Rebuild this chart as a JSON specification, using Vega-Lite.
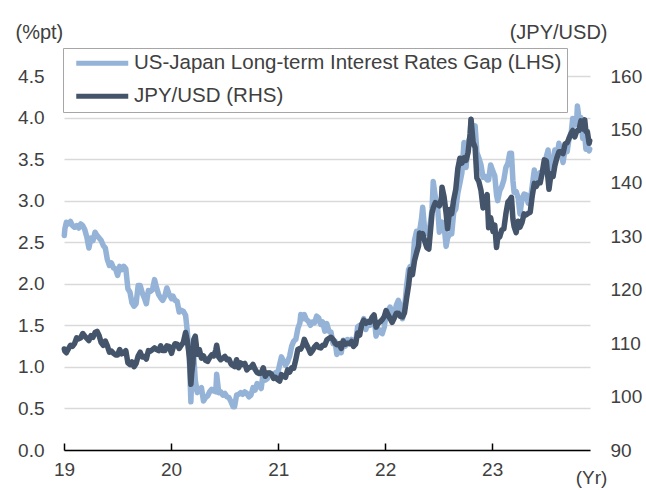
{
"$schema": "https://vega.github.io/schema/vega-lite/v6.json",
"width": 526, "height": 374,
"autosize": {"type": "none"},
"padding": {"left": 64, "top": 76, "right": 56, "bottom": 40},
"background": "white",
"config": {"view": {"stroke": null}, "font": "Liberation Sans",
 "axis": {"labelFont": "Liberation Sans", "titleFont": "Liberation Sans", "labelColor": "#404040", "titleColor": "#404040", "titleFontWeight": "normal", "labelFontSize": 19, "titleFontSize": 20},
 "legend": {"strokeWidth": 1}},
"data": {"values": [
{"d":"2019-01-02","g":2.58,"f":108.9},{"d":"2019-01-04","g":2.66,"f":108.5},{"d":"2019-01-09","g":2.74,"f":108.2},{"d":"2019-01-16","g":2.72,"f":108.9},{"d":"2019-01-23","g":2.75,"f":109.6},{"d":"2019-01-30","g":2.70,"f":109.4},
{"d":"2019-02-06","g":2.68,"f":109.9},{"d":"2019-02-13","g":2.70,"f":111.0},{"d":"2019-02-20","g":2.67,"f":110.8},{"d":"2019-02-27","g":2.72,"f":111.0},
{"d":"2019-03-06","g":2.70,"f":111.8},{"d":"2019-03-13","g":2.65,"f":111.3},{"d":"2019-03-20","g":2.56,"f":110.9},{"d":"2019-03-27","g":2.43,"f":110.5},
{"d":"2019-04-03","g":2.55,"f":111.4},{"d":"2019-04-10","g":2.52,"f":111.1},{"d":"2019-04-17","g":2.62,"f":112.0},{"d":"2019-04-24","g":2.58,"f":112.2},
{"d":"2019-05-01","g":2.55,"f":111.4},{"d":"2019-05-08","g":2.52,"f":110.1},{"d":"2019-05-15","g":2.46,"f":109.6},{"d":"2019-05-22","g":2.43,"f":110.4},{"d":"2019-05-29","g":2.29,"f":109.5},
{"d":"2019-06-05","g":2.22,"f":108.3},{"d":"2019-06-12","g":2.25,"f":108.5},{"d":"2019-06-19","g":2.19,"f":108.1},{"d":"2019-06-26","g":2.18,"f":107.8},
{"d":"2019-07-03","g":2.10,"f":107.8},{"d":"2019-07-10","g":2.21,"f":108.8},{"d":"2019-07-17","g":2.17,"f":108.0},{"d":"2019-07-24","g":2.21,"f":108.2},{"d":"2019-07-31","g":2.18,"f":108.6},
{"d":"2019-08-07","g":1.94,"f":106.3},{"d":"2019-08-14","g":1.90,"f":106.0},{"d":"2019-08-21","g":1.77,"f":106.5},{"d":"2019-08-28","g":1.73,"f":105.6},
{"d":"2019-09-04","g":1.76,"f":106.2},{"d":"2019-09-11","g":1.98,"f":107.6},{"d":"2019-09-18","g":1.98,"f":108.3},{"d":"2019-09-25","g":1.89,"f":107.4},
{"d":"2019-10-02","g":1.83,"f":107.5},{"d":"2019-10-09","g":1.76,"f":107.0},{"d":"2019-10-16","g":1.92,"f":108.6},{"d":"2019-10-23","g":1.91,"f":108.5},{"d":"2019-10-30","g":1.93,"f":108.8},
{"d":"2019-11-06","g":2.05,"f":109.1},{"d":"2019-11-13","g":1.95,"f":108.8},{"d":"2019-11-20","g":1.87,"f":108.6},{"d":"2019-11-27","g":1.83,"f":109.5},
{"d":"2019-12-04","g":1.80,"f":108.6},{"d":"2019-12-11","g":1.85,"f":108.6},{"d":"2019-12-18","g":1.95,"f":109.5},{"d":"2019-12-25","g":1.88,"f":109.4},
{"d":"2020-01-03","g":1.82,"f":108.1},{"d":"2020-01-08","g":1.85,"f":109.1},{"d":"2020-01-15","g":1.80,"f":109.9},{"d":"2020-01-22","g":1.79,"f":109.8},{"d":"2020-01-29","g":1.66,"f":109.0},
{"d":"2020-02-05","g":1.68,"f":109.6},{"d":"2020-02-12","g":1.67,"f":110.1},{"d":"2020-02-20","g":1.62,"f":112.0},{"d":"2020-02-26","g":1.42,"f":110.4},
{"d":"2020-03-04","g":1.08,"f":107.4},{"d":"2020-03-09","g":0.58,"f":102.3},{"d":"2020-03-12","g":0.88,"f":104.5},{"d":"2020-03-16","g":0.73,"f":106.2},{"d":"2020-03-19","g":1.12,"f":110.7},{"d":"2020-03-24","g":0.84,"f":111.3},{"d":"2020-03-31","g":0.69,"f":107.9},
{"d":"2020-04-07","g":0.73,"f":108.8},{"d":"2020-04-14","g":0.75,"f":107.2},{"d":"2020-04-21","g":0.59,"f":107.6},{"d":"2020-04-28","g":0.63,"f":106.8},
{"d":"2020-05-05","g":0.65,"f":106.6},{"d":"2020-05-12","g":0.70,"f":107.3},{"d":"2020-05-19","g":0.73,"f":107.8},{"d":"2020-05-26","g":0.71,"f":107.6},
{"d":"2020-06-02","g":0.70,"f":108.7},{"d":"2020-06-05","g":0.91,"f":109.6},{"d":"2020-06-12","g":0.69,"f":107.4},{"d":"2020-06-19","g":0.70,"f":106.9},{"d":"2020-06-26","g":0.66,"f":107.2},
{"d":"2020-07-03","g":0.68,"f":107.5},{"d":"2020-07-10","g":0.64,"f":106.9},{"d":"2020-07-17","g":0.63,"f":107.0},{"d":"2020-07-24","g":0.58,"f":106.1},{"d":"2020-07-31","g":0.52,"f":105.8},
{"d":"2020-08-05","g":0.52,"f":105.6},{"d":"2020-08-12","g":0.66,"f":106.9},{"d":"2020-08-19","g":0.67,"f":105.4},{"d":"2020-08-26","g":0.69,"f":106.3},
{"d":"2020-09-02","g":0.67,"f":106.0},{"d":"2020-09-09","g":0.70,"f":106.2},{"d":"2020-09-16","g":0.68,"f":105.0},{"d":"2020-09-23","g":0.64,"f":105.4},{"d":"2020-09-30","g":0.66,"f":105.5},
{"d":"2020-10-07","g":0.75,"f":106.0},{"d":"2020-10-14","g":0.72,"f":105.1},{"d":"2020-10-21","g":0.80,"f":104.5},{"d":"2020-10-28","g":0.77,"f":104.3},
{"d":"2020-11-04","g":0.74,"f":104.4},{"d":"2020-11-11","g":0.94,"f":105.4},{"d":"2020-11-18","g":0.84,"f":103.8},{"d":"2020-11-25","g":0.86,"f":104.4},
{"d":"2020-12-02","g":0.93,"f":104.4},{"d":"2020-12-09","g":0.92,"f":104.2},{"d":"2020-12-16","g":0.91,"f":103.4},{"d":"2020-12-23","g":0.93,"f":103.6},{"d":"2020-12-30","g":0.91,"f":103.2},
{"d":"2021-01-06","g":1.03,"f":102.9},{"d":"2021-01-12","g":1.12,"f":104.1},{"d":"2021-01-19","g":1.07,"f":103.8},{"d":"2021-01-26","g":1.02,"f":103.6},
{"d":"2021-02-02","g":1.06,"f":105.0},{"d":"2021-02-09","g":1.13,"f":104.6},{"d":"2021-02-16","g":1.25,"f":105.4},{"d":"2021-02-23","g":1.31,"f":105.3},
{"d":"2021-03-02","g":1.33,"f":106.9},{"d":"2021-03-09","g":1.46,"f":108.8},{"d":"2021-03-16","g":1.53,"f":109.0},{"d":"2021-03-19","g":1.63,"f":108.9},{"d":"2021-03-26","g":1.58,"f":109.6},{"d":"2021-03-31","g":1.63,"f":110.7},
{"d":"2021-04-07","g":1.57,"f":109.8},{"d":"2021-04-14","g":1.55,"f":109.0},{"d":"2021-04-21","g":1.50,"f":108.1},{"d":"2021-04-28","g":1.54,"f":108.6},
{"d":"2021-05-05","g":1.53,"f":109.3},{"d":"2021-05-12","g":1.61,"f":109.7},{"d":"2021-05-19","g":1.59,"f":109.2},{"d":"2021-05-26","g":1.51,"f":109.1},
{"d":"2021-06-02","g":1.54,"f":109.6},{"d":"2021-06-09","g":1.43,"f":109.6},{"d":"2021-06-16","g":1.52,"f":110.6},{"d":"2021-06-23","g":1.43,"f":110.9},{"d":"2021-06-30","g":1.42,"f":111.1},
{"d":"2021-07-07","g":1.28,"f":110.7},{"d":"2021-07-14","g":1.31,"f":110.0},{"d":"2021-07-20","g":1.15,"f":109.7},{"d":"2021-07-28","g":1.24,"f":109.9},
{"d":"2021-08-04","g":1.17,"f":109.0},{"d":"2021-08-11","g":1.32,"f":110.4},{"d":"2021-08-18","g":1.25,"f":109.8},{"d":"2021-08-25","g":1.33,"f":110.0},
{"d":"2021-09-01","g":1.28,"f":109.9},{"d":"2021-09-08","g":1.33,"f":110.3},{"d":"2021-09-15","g":1.27,"f":109.4},{"d":"2021-09-22","g":1.29,"f":109.8},{"d":"2021-09-29","g":1.48,"f":111.9},
{"d":"2021-10-06","g":1.50,"f":111.5},{"d":"2021-10-13","g":1.50,"f":113.5},{"d":"2021-10-20","g":1.58,"f":114.3},{"d":"2021-10-27","g":1.45,"f":113.7},
{"d":"2021-11-03","g":1.55,"f":114.0},{"d":"2021-11-10","g":1.50,"f":113.9},{"d":"2021-11-17","g":1.53,"f":114.8},{"d":"2021-11-24","g":1.60,"f":115.3},
{"d":"2021-12-01","g":1.37,"f":113.0},{"d":"2021-12-08","g":1.46,"f":113.7},{"d":"2021-12-15","g":1.42,"f":114.0},{"d":"2021-12-22","g":1.40,"f":114.4},{"d":"2021-12-29","g":1.48,"f":115.0},
{"d":"2022-01-04","g":1.63,"f":116.1},{"d":"2022-01-11","g":1.68,"f":115.3},{"d":"2022-01-18","g":1.72,"f":114.6},{"d":"2022-01-25","g":1.61,"f":113.9},
{"d":"2022-02-01","g":1.62,"f":114.7},{"d":"2022-02-08","g":1.74,"f":115.6},{"d":"2022-02-15","g":1.80,"f":115.6},{"d":"2022-02-22","g":1.73,"f":115.0},
{"d":"2022-03-01","g":1.58,"f":114.9},{"d":"2022-03-08","g":1.70,"f":115.7},{"d":"2022-03-15","g":1.97,"f":118.4},{"d":"2022-03-22","g":2.17,"f":120.8},{"d":"2022-03-28","g":2.21,"f":123.8},
{"d":"2022-04-04","g":2.17,"f":122.8},{"d":"2022-04-11","g":2.52,"f":125.4},{"d":"2022-04-18","g":2.63,"f":126.9},{"d":"2022-04-25","g":2.57,"f":128.2},{"d":"2022-04-28","g":2.62,"f":130.6},
{"d":"2022-05-05","g":2.78,"f":130.2},{"d":"2022-05-09","g":2.92,"f":130.5},{"d":"2022-05-16","g":2.64,"f":129.1},{"d":"2022-05-23","g":2.61,"f":127.9},{"d":"2022-05-30","g":2.60,"f":127.6},
{"d":"2022-06-06","g":2.78,"f":131.9},{"d":"2022-06-10","g":2.90,"f":134.4},{"d":"2022-06-14","g":3.23,"f":135.3},{"d":"2022-06-21","g":3.05,"f":136.3},{"d":"2022-06-28","g":2.97,"f":136.1},
{"d":"2022-07-05","g":2.62,"f":135.7},{"d":"2022-07-12","g":2.73,"f":137.0},{"d":"2022-07-14","g":2.74,"f":139.2},{"d":"2022-07-21","g":2.70,"f":137.4},{"d":"2022-07-28","g":2.45,"f":134.3},
{"d":"2022-08-02","g":2.55,"f":131.4},{"d":"2022-08-09","g":2.60,"f":135.0},{"d":"2022-08-16","g":2.60,"f":134.2},{"d":"2022-08-23","g":2.86,"f":136.9},{"d":"2022-08-30","g":2.90,"f":138.8},
{"d":"2022-09-06","g":3.09,"f":142.7},{"d":"2022-09-13","g":3.21,"f":144.6},{"d":"2022-09-20","g":3.34,"f":143.7},{"d":"2022-09-27","g":3.70,"f":144.7},
{"d":"2022-10-04","g":3.40,"f":144.2},{"d":"2022-10-11","g":3.70,"f":145.7},{"d":"2022-10-18","g":3.77,"f":149.2},{"d":"2022-10-21","g":3.98,"f":151.9},{"d":"2022-10-28","g":3.76,"f":147.6},
{"d":"2022-11-04","g":3.90,"f":146.6},{"d":"2022-11-10","g":3.58,"f":140.9},{"d":"2022-11-17","g":3.51,"f":140.2},{"d":"2022-11-24","g":3.43,"f":138.6},
{"d":"2022-12-01","g":3.28,"f":135.3},{"d":"2022-12-08","g":3.29,"f":136.6},{"d":"2022-12-15","g":3.25,"f":137.8},{"d":"2022-12-20","g":3.25,"f":131.6},{"d":"2022-12-27","g":3.43,"f":133.5},
{"d":"2023-01-04","g":3.35,"f":130.9},{"d":"2023-01-10","g":3.30,"f":132.1},{"d":"2023-01-16","g":3.07,"f":127.9},{"d":"2023-01-20","g":3.00,"f":129.6},{"d":"2023-01-27","g":3.12,"f":129.9},
{"d":"2023-02-03","g":3.17,"f":131.2},{"d":"2023-02-10","g":3.25,"f":131.4},{"d":"2023-02-17","g":3.40,"f":134.2},{"d":"2023-02-24","g":3.45,"f":136.4},
{"d":"2023-03-02","g":3.57,"f":136.8},{"d":"2023-03-08","g":3.57,"f":137.3},{"d":"2023-03-13","g":3.24,"f":133.2},{"d":"2023-03-17","g":3.10,"f":131.8},{"d":"2023-03-24","g":3.11,"f":130.7},{"d":"2023-03-31","g":3.03,"f":132.8},
{"d":"2023-04-06","g":2.84,"f":131.7},{"d":"2023-04-13","g":3.02,"f":132.6},{"d":"2023-04-20","g":3.08,"f":134.2},{"d":"2023-04-27","g":3.07,"f":134.0},
{"d":"2023-05-04","g":2.97,"f":134.3},{"d":"2023-05-11","g":2.99,"f":134.5},{"d":"2023-05-18","g":3.18,"f":137.6},{"d":"2023-05-25","g":3.37,"f":139.9},{"d":"2023-05-31","g":3.20,"f":139.3},
{"d":"2023-06-07","g":3.31,"f":140.0},{"d":"2023-06-14","g":3.34,"f":140.0},{"d":"2023-06-21","g":3.34,"f":141.9},{"d":"2023-06-28","g":3.36,"f":144.3},
{"d":"2023-07-05","g":3.53,"f":144.1},{"d":"2023-07-11","g":3.61,"f":140.6},{"d":"2023-07-14","g":3.35,"f":138.8},{"d":"2023-07-21","g":3.37,"f":141.7},{"d":"2023-07-28","g":3.50,"f":141.2},
{"d":"2023-08-03","g":3.61,"f":143.2},{"d":"2023-08-10","g":3.53,"f":144.7},{"d":"2023-08-17","g":3.69,"f":145.8},{"d":"2023-08-24","g":3.58,"f":145.8},{"d":"2023-08-31","g":3.46,"f":145.5},
{"d":"2023-09-07","g":3.62,"f":147.3},{"d":"2023-09-14","g":3.59,"f":147.5},{"d":"2023-09-21","g":3.76,"f":148.4},{"d":"2023-09-28","g":3.82,"f":149.3},
{"d":"2023-10-03","g":3.99,"f":149.8},{"d":"2023-10-10","g":3.91,"f":148.6},{"d":"2023-10-16","g":3.93,"f":149.6},{"d":"2023-10-19","g":4.14,"f":149.8},{"d":"2023-10-24","g":4.00,"f":149.8},{"d":"2023-10-31","g":4.00,"f":151.6},
{"d":"2023-11-06","g":3.75,"f":150.1},{"d":"2023-11-13","g":3.79,"f":151.8},{"d":"2023-11-17","g":3.62,"f":149.6},{"d":"2023-11-22","g":3.66,"f":149.6},{"d":"2023-11-28","g":3.60,"f":147.4},{"d":"2023-11-30","g":3.62,"f":147.9}
]},
"encoding": {
 "x": {"field": "d", "type": "temporal",
  "scale": {"domain": [{"year": 2019, "month": 1, "date": 1}, {"year": 2023, "month": 12, "date": 1}]},
  "axis": {"values": [{"year": 2019, "month": 1, "date": 1}, {"year": 2020, "month": 1, "date": 1}, {"year": 2021, "month": 1, "date": 1}, {"year": 2022, "month": 1, "date": 1}, {"year": 2023, "month": 1, "date": 1}],
   "format": "%y", "labelFlush": false, "labelOverlap": false, "grid": false,
   "domainColor": "#000000", "domainWidth": 1.5, "tickColor": "#000000", "tickWidth": 1.5, "tickSize": -7, "labelPadding": 17,
   "title": "(Yr)", "titleFontSize": 19, "titleX": 527, "titleY": 27, "titleAlign": "center", "titleBaseline": "middle", "titleAngle": 0}}
},
"layer": [
 {"mark": {"type": "line", "strokeWidth": 5.5, "strokeJoin": "round", "strokeCap": "round"},
  "encoding": {
   "y": {"field": "g", "type": "quantitative", "scale": {"domain": [0, 4.5], "nice": false, "zero": false},
    "axis": {"values": [0, 0.5, 1, 1.5, 2, 2.5, 3, 3.5, 4, 4.5], "format": ".1f", "grid": true, "gridColor": "#D9D9D9", "gridWidth": 1.5, "domain": false, "ticks": false, "labelPadding": 20,
     "title": "(%pt)", "titleAngle": 0, "titleAlign": "left", "titleBaseline": "middle", "titleX": -49, "titleY": -44}},
   "color": {"datum": "US-Japan Long-term Interest Rates Gap (LHS)", "type": "nominal",
    "scale": {"domain": ["US-Japan Long-term Interest Rates Gap (LHS)", "JPY/USD (RHS)"], "range": ["#95B3D7", "#44546A"]},
    "legend": {"orient": "none", "legendX": -1, "legendY": -28, "direction": "vertical", "title": null,
     "strokeColor": "#A6A6A6", "fillColor": "white", "padding": 5,
     "symbolType": "M-5.2,0H5.2", "symbolSize": 100, "symbolStrokeWidth": 5, "symbolOffset": 24,
     "labelFontSize": 20.5, "labelColor": "#404040", "labelFont": "Liberation Sans", "labelOffset": 21.5, "labelLimit": 700, "rowPadding": 12}}}},
 {"mark": {"type": "line", "strokeWidth": 5.5, "strokeJoin": "round", "strokeCap": "round"},
  "encoding": {
   "y": {"field": "f", "type": "quantitative", "scale": {"domain": [90, 160], "nice": false, "zero": false},
    "axis": {"orient": "right", "values": [90, 100, 110, 120, 130, 140, 150, 160], "grid": false, "domain": false, "ticks": false, "labelPadding": 20,
     "title": "(JPY/USD)", "titleAngle": 0, "titleAlign": "right", "titleBaseline": "middle", "titleX": 17, "titleY": -44}},
   "color": {"datum": "JPY/USD (RHS)", "type": "nominal"}}}
],
"resolve": {"scale": {"y": "independent"}}
}
